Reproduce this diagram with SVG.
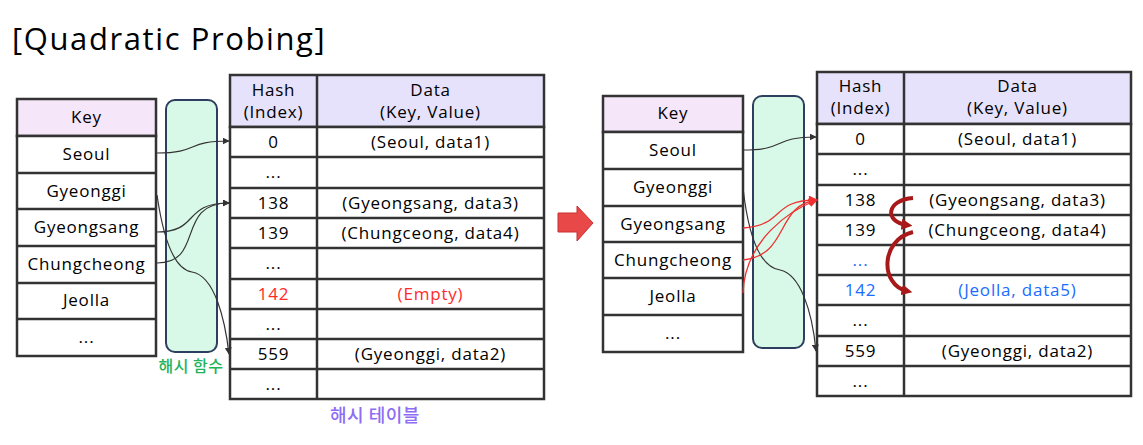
<svg xmlns="http://www.w3.org/2000/svg" width="1143" height="445" viewBox="0 0 1143 445">
<style>
text{font-family:"Open Sans","Noto Sans","Noto Sans CJK KR",sans-serif;font-size:17px;letter-spacing:0.8px;fill:#000;text-anchor:middle}
.title{font-size:31px;letter-spacing:1.6px;text-anchor:start}
.ko{font-family:"Noto Sans CJK KR","Noto Sans",sans-serif;font-weight:500;letter-spacing:0.5px}
.cell{fill:#fff;stroke:#333;stroke-width:2.5}
.keyh{fill:#f6e6fa;stroke:#333;stroke-width:2.5}
.hashh{fill:#e6e2fc;stroke:#333;stroke-width:2.5}
.ln{stroke:#333;stroke-width:2.5}
.hf{fill:#d9f9e8;stroke:#2d3f5e;stroke-width:2}
.red{fill:#ff2a2a}
.blue{fill:#1a6cff}
.con{fill:none;stroke:#333;stroke-width:1.2}
.rcon{fill:none;stroke:#f03030;stroke-width:1.3}
.probe{fill:none;stroke:#a81a1a;stroke-width:4}
</style>
<defs>
<marker id="ab" viewBox="0 0 10 10" refX="9" refY="5" markerWidth="7" markerHeight="7" orient="auto" markerUnits="userSpaceOnUse"><path d="M0,0 L10,5 L0,10 z" fill="#333"/></marker>
<marker id="ar" viewBox="0 0 10 10" refX="9" refY="5" markerWidth="9" markerHeight="9" orient="auto" markerUnits="userSpaceOnUse"><path d="M0,0 L10,5 L0,10 z" fill="#f03030"/></marker>
<marker id="ap" viewBox="0 0 10 10" refX="5" refY="5" markerWidth="11" markerHeight="11" orient="auto" markerUnits="userSpaceOnUse"><path d="M0,0 L10,5 L0,10 z" fill="#a81a1a"/></marker>
</defs>
<text class="title" x="12" y="50">[Quadratic Probing]</text>

<g id="left-keys">
<rect class="keyh" x="17" y="99" width="139" height="37"/>
<rect class="cell" x="17" y="136" width="139" height="220"/>
<path class="ln" d="M17,173H156M17,209H156M17,246H156M17,283H156M17,319H156"/>
<text x="86.5" y="123">Key</text>
<text x="86.5" y="160">Seoul</text>
<text x="86.5" y="197">Gyeonggi</text>
<text x="86.5" y="233">Gyeongsang</text>
<text x="86.5" y="270">Chungcheong</text>
<text x="86.5" y="306">Jeolla</text>
<text x="86.5" y="343">...</text>
</g>

<g id="left-hashfn">
<rect class="hf" x="166" y="100" width="51" height="252" rx="9"/>
<text class="ko" x="191" y="372" style="fill:#22b35a;font-size:16px">해시 함수</text>
</g>

<g id="left-table">
<rect class="hashh" x="230" y="75" width="314" height="52"/>
<rect class="cell" x="230" y="127" width="314" height="272"/>
<path class="ln" d="M317,75V399M230,157H544M230,188H544M230,218H544M230,248H544M230,279H544M230,309H544M230,339H544M230,369H544"/>
<text x="273.5" y="96">Hash</text>
<text x="273.5" y="118">(Index)</text>
<text x="430.5" y="96">Data</text>
<text x="430.5" y="118">(Key, Value)</text>
<text x="273.5" y="148">0</text><text x="430.5" y="148">(Seoul, data1)</text>
<text x="273.5" y="178">...</text>
<text x="273.5" y="209">138</text><text x="430.5" y="209">(Gyeongsang, data3)</text>
<text x="273.5" y="239">139</text><text x="430.5" y="239">(Chungceong, data4)</text>
<text x="273.5" y="269">...</text>
<text class="red" x="273.5" y="300">142</text><text class="red" x="430.5" y="300">(Empty)</text>
<text x="273.5" y="330">...</text>
<text x="273.5" y="360">559</text><text x="430.5" y="360">(Gyeonggi, data2)</text>
<text x="273.5" y="390">...</text>
<text class="ko" x="375" y="422" style="fill:#8e6cf5;font-size:18px">해시 테이블</text>
</g>

<g id="transition-arrow">
<polygon points="558,213 577,213 577,206 593,223 577,241 577,232 558,232" fill="#e84848" stroke="#c83030" stroke-width="1"/>
</g>

<g id="right-keys">
<rect class="keyh" x="603" y="96" width="140" height="36"/>
<rect class="cell" x="603" y="132" width="140" height="220"/>
<path class="ln" d="M603,169H743M603,206H743M603,242H743M603,278H743M603,315H743"/>
<text x="673" y="119">Key</text>
<text x="673" y="156">Seoul</text>
<text x="673" y="193">Gyeonggi</text>
<text x="673" y="230">Gyeongsang</text>
<text x="673" y="266">Chungcheong</text>
<text x="673" y="302">Jeolla</text>
<text x="673" y="339">...</text>
</g>

<g id="right-hashfn">
<rect class="hf" x="753" y="96" width="51" height="252" rx="9"/>
</g>

<g id="right-table">
<rect class="hashh" x="817" y="72" width="314" height="52"/>
<rect class="cell" x="817" y="124" width="314" height="272"/>
<path class="ln" d="M904,72V396M817,154H1131M817,185H1131M817,215H1131M817,245H1131M817,275H1131M817,305H1131M817,336H1131M817,366H1131"/>
<text x="860.5" y="92">Hash</text>
<text x="860.5" y="114">(Index)</text>
<text x="1017.5" y="92">Data</text>
<text x="1017.5" y="114">(Key, Value)</text>
<text x="860.5" y="145">0</text><text x="1017.5" y="145">(Seoul, data1)</text>
<text x="860.5" y="175">...</text>
<text x="860.5" y="206">138</text><text x="1017.5" y="206">(Gyeongsang, data3)</text>
<text x="860.5" y="236">139</text><text x="1017.5" y="236">(Chungceong, data4)</text>
<text class="blue" x="860.5" y="266">...</text>
<text class="blue" x="860.5" y="296">142</text><text class="blue" x="1017.5" y="296">(Jeolla, data5)</text>
<text x="860.5" y="326">...</text>
<text x="860.5" y="357">559</text><text x="1017.5" y="357">(Gyeonggi, data2)</text>
<text x="860.5" y="387">...</text>
</g>

<g id="connectors">
<path class="con" marker-end="url(#ab)" d="M157,153 C200,153 185,141 229,141"/>
<path class="con" marker-end="url(#ab)" d="M157,232 C200,232 182,203 229,203"/>
<path class="con" marker-end="url(#ab)" d="M157,263 C205,263 175,203 229,203"/>
<path class="con" marker-end="url(#ab)" d="M157,195 C165,250 178,270 192,272 C215,276 225,320 229,354"/>
<path class="con" marker-end="url(#ab)" d="M743,150 C787,150 772,137 816,137"/>
<path class="con" marker-end="url(#ab)" d="M743,188 C750,250 765,268 780,270 C800,274 812,310 816,351"/>
<path class="rcon" marker-end="url(#ar)" d="M743,228 C786,225 770,200 817,200"/>
<path class="rcon" marker-end="url(#ar)" d="M743,260 C790,255 775,205 817,200"/>
<path class="rcon" marker-end="url(#ar)" d="M743,293 C745,240 790,210 817,200"/>
<path class="probe" marker-end="url(#ap)" d="M913,198 C886,200 884,222 907,225"/>
<path class="probe" marker-end="url(#ap)" d="M913,232 C880,240 880,285 907,291"/>
</g>
</svg>
